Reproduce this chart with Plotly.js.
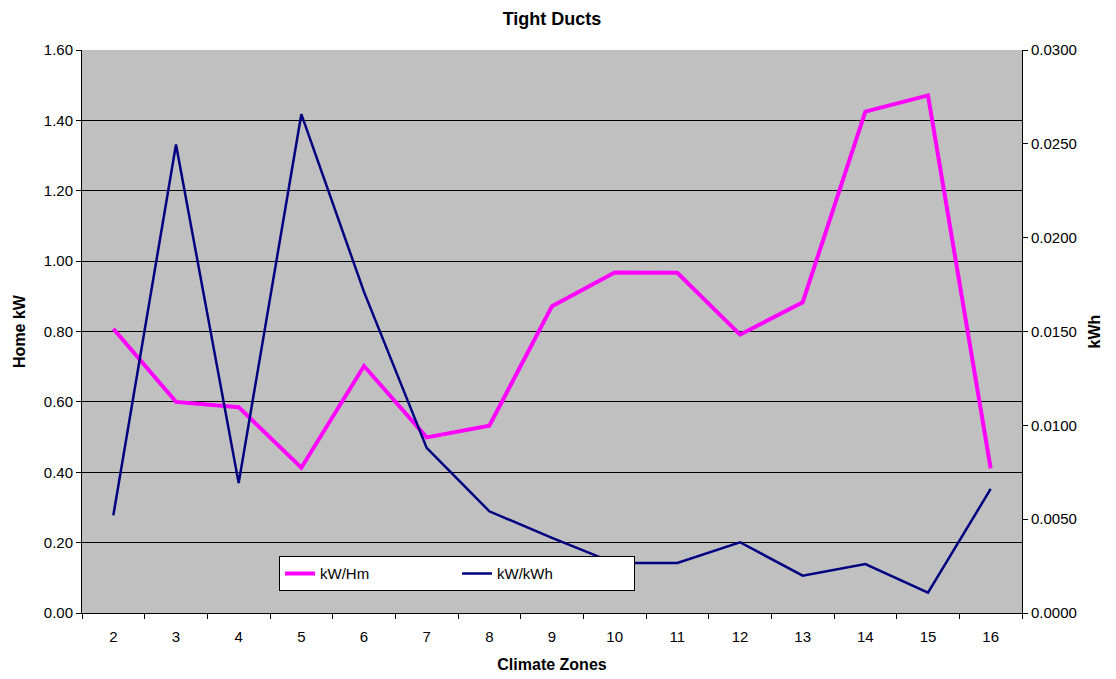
<!DOCTYPE html>
<html>
<head>
<meta charset="utf-8">
<script src="https://cdn.plot.ly/plotly-3.0.1.min.js"></script>
<style>html,body{margin:0;padding:0;background:#fff;}#chart{width:1116px;height:679px;}</style>
</head>
<body>
<div id="chart"></div>
<script>
const zones = ["2","3","4","5","6","7","8","9","10","11","12","13","14","15","16"];
const kwHm = [0.808, 0.600, 0.585, 0.413, 0.702, 0.499, 0.532, 0.872, 0.968, 0.967, 0.791, 0.883, 1.425, 1.471, 0.411];
const kwKwh = [0.00520, 0.02496, 0.00692, 0.02658, 0.01711, 0.00880, 0.00542, 0.00400, 0.00266, 0.00267, 0.00377, 0.00199, 0.00261, 0.00108, 0.00661];
const leftTicks = [0, 0.2, 0.4, 0.6, 0.8, 1.0, 1.2, 1.4, 1.6];
const rightTicks = [0, 0.005, 0.01, 0.015, 0.02, 0.025, 0.03];

const font = "Liberation Sans, Arial, sans-serif";
const traces = [
  {x: zones, y: kwHm, name: "kW/Hm", type: "scatter", mode: "lines",
   line: {color: "#FF00FF", width: 4}, yaxis: "y"},
  {x: zones, y: kwKwh, name: "kW/kWh", type: "scatter", mode: "lines",
   line: {color: "#000080", width: 2.5}, yaxis: "y2"}
];
const layout = {
  width: 1116, height: 679,
  margin: {l: 82, r: 94, t: 50, b: 66},
  paper_bgcolor: "#ffffff",
  plot_bgcolor: "#C0C0C0",
  font: {family: font, size: 15, color: "#000"},
  title: {text: "<b>Tight Ducts</b>", x: 0.5, xref: "paper", y: 0.973, yanchor: "middle",
          font: {family: font, size: 18, color: "#000"}},
  showlegend: true,
  legend: {orientation: "h", x: 0.2096, y: 0.101, xanchor: "left", yanchor: "top",
           bgcolor: "#ffffff", bordercolor: "#000", borderwidth: 1,
           font: {family: font, size: 15}, entrywidth: 132, entrywidthmode: "pixels",
           itemwidth: 30},
  xaxis: {type: "category", range: [-0.5, 14.5], tickson: "boundaries", ticks: "outside", ticklen: 5,
          tickcolor: "#000", showline: true, linecolor: "#000", linewidth: 1,
          mirror: false, showgrid: false, zeroline: false, ticklabelstandoff: 10,
          tickfont: {family: font, size: 15},
          title: {text: "<b>Climate Zones</b>", font: {family: font, size: 16}, standoff: 14}},
  yaxis: {range: [0, 1.6], tickvals: leftTicks, tickformat: ".2f",
          ticks: "outside", ticklen: 5, tickcolor: "#000",
          showline: true, linecolor: "#000", linewidth: 1,
          showgrid: true, gridcolor: "#000", gridwidth: 1, zeroline: false,
          tickfont: {family: font, size: 15},
          title: {text: "<b>Home kW</b>", font: {family: font, size: 16}, standoff: 14}},
  yaxis2: {range: [0, 0.03], tickvals: rightTicks, tickformat: ".4f",
           overlaying: "y", side: "right",
           ticks: "outside", ticklen: 5, tickcolor: "#000",
           showline: true, linecolor: "#000", linewidth: 1,
           showgrid: false, zeroline: false,
           tickfont: {family: font, size: 15},
           title: {text: "<b>kWh</b>", font: {family: font, size: 16}, standoff: 12}}
};
Plotly.newPlot("chart", traces, layout, {displayModeBar: false, staticPlot: true});
</script>
</body>
</html>
